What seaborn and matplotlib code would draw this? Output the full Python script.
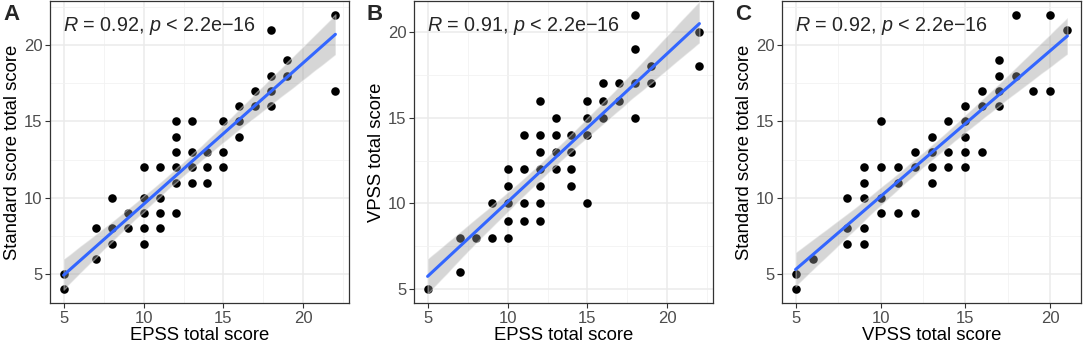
import numpy as np
import pandas as pd
import seaborn as sns
import matplotlib.pyplot as plt
from matplotlib.ticker import MultipleLocator

# Panel A: EPSS vs Standard score
a_epss = [5, 5, 7, 7, 8, 8, 8, 9, 9, 10, 10, 10, 10, 10, 11, 11, 11, 11,
          12, 12, 12, 12, 12, 12, 13, 13, 13, 13, 14, 14, 14, 15, 15, 15,
          16, 16, 16, 17, 17, 18, 18, 18, 18, 19, 19, 22, 22]
a_std = [5, 4, 8, 6, 10, 8, 7, 9, 8, 12, 10, 9, 8, 7, 12, 10, 9, 8,
         15, 14, 13, 12, 11, 9, 15, 13, 12, 11, 13, 12, 11, 15, 13, 12,
         16, 15, 14, 17, 16, 21, 18, 17, 16, 19, 18, 22, 17]

# Panel B: EPSS vs VPSS
b_epss = [5, 7, 7, 8, 9, 9, 10, 10, 10, 10, 10, 11, 11, 11, 11,
          12, 12, 12, 12, 12, 12, 12, 13, 13, 13, 13, 14, 14, 14, 14,
          15, 15, 15, 15, 16, 16, 16, 17, 17, 18, 18, 18, 18, 19, 19, 22, 22]
b_vpss = [5, 8, 6, 8, 10, 8, 12, 11, 10, 9, 8, 14, 12, 10, 9,
          16, 14, 13, 12, 11, 10, 9, 15, 14, 13, 12, 14, 13, 12, 11,
          16, 15, 14, 10, 17, 16, 15, 17, 16, 21, 19, 17, 15, 18, 17, 20, 18]

# Panel C: VPSS vs Standard score
c_vpss = [5, 5, 6, 8, 8, 8, 9, 9, 9, 9, 9, 10, 10, 10, 10, 11, 11, 11,
          12, 12, 12, 13, 13, 13, 13, 14, 14, 14, 15, 15, 15, 15, 15,
          16, 16, 16, 17, 17, 17, 17, 18, 18, 19, 20, 20, 21]
c_std = [5, 4, 6, 10, 8, 7, 12, 11, 10, 8, 7, 15, 12, 10, 9, 12, 11, 9,
         13, 12, 9, 14, 13, 12, 11, 15, 13, 12, 16, 15, 14, 13, 12,
         17, 16, 13, 19, 18, 17, 16, 22, 18, 17, 22, 17, 21]

panels = [
    ("A", a_epss, a_std, "EPSS total score", "Standard score total score", "R = 0.92"),
    ("B", b_epss, b_vpss, "EPSS total score", "VPSS total score", "R = 0.91"),
    ("C", c_vpss, c_std, "VPSS total score", "Standard score total score", "R = 0.92"),
]
lefts = [50, 414, 782]

sns.set_style("white")
plt.rcParams['font.family'] = ['Liberation Sans', 'DejaVu Sans']
plt.rcParams['mathtext.fontset'] = 'custom'
plt.rcParams['mathtext.rm'] = 'Liberation Sans'
plt.rcParams['mathtext.it'] = 'Liberation Sans:italic'

W, H = 1083, 347
fig = plt.figure(figsize=(W / 100, H / 100), dpi=100)

for (lab, xs, ys, xl, yl, rtxt), left in zip(panels, lefts):
    ax = fig.add_axes([left / W, 44 / H, 299 / W, 302 / H])
    df = pd.DataFrame({"x": xs, "y": ys})
    sns.regplot(data=df, x="x", y="y", ax=ax, ci=95, seed=1,
                scatter_kws=dict(s=38, color="black", alpha=1, linewidths=0, zorder=3),
                line_kws=dict(color="#3366FF", lw=2.2, zorder=5))
    # grey confidence band like ggplot
    band = ax.collections[-1]
    band.set_facecolor("#999999")
    band.set_alpha(0.4)
    band.set_zorder(4)

    xmin, xmax = min(xs), max(xs)
    ymin, ymax = min(ys), max(ys)
    dx, dy = (xmax - xmin) * 0.05, (ymax - ymin) * 0.05
    ax.set_xlim(xmin - dx, xmax + dx)
    ax.set_ylim(ymin - dy, ymax + dy)

    ax.xaxis.set_major_locator(MultipleLocator(5))
    ax.yaxis.set_major_locator(MultipleLocator(5))
    ax.xaxis.set_minor_locator(MultipleLocator(2.5))
    ax.yaxis.set_minor_locator(MultipleLocator(2.5))
    ax.grid(True, which="major", color="#EBEBEB", lw=1.1, zorder=0)
    ax.grid(True, which="minor", color="#F2F2F2", lw=0.6, zorder=0)
    ax.set_axisbelow(True)
    ax.tick_params(which="major", length=3.5, width=0.8, color="#333333",
                   labelsize=12, labelcolor="#4D4D4D", pad=2, left=True, bottom=True)
    ax.tick_params(which="minor", length=0)
    for sp in ax.spines.values():
        sp.set_color("#333333")
        sp.set_linewidth(0.9)

    ax.set_xlabel(xl, fontsize=13.3, color="black", labelpad=1)
    ax.set_ylabel(yl, fontsize=13.3, color="black", labelpad=2)

    ax.text(0.045, 0.955, r"$R$" + rtxt[1:] + r", $p$ < 2.2e−16",
            transform=ax.transAxes, fontsize=14.2, va="top", ha="left")

    fig.text((left - 47) / W, 1 - 4 / H, lab, fontsize=16, fontweight="bold",
             va="top", ha="left")

fig.savefig("out.png", dpi=100)
